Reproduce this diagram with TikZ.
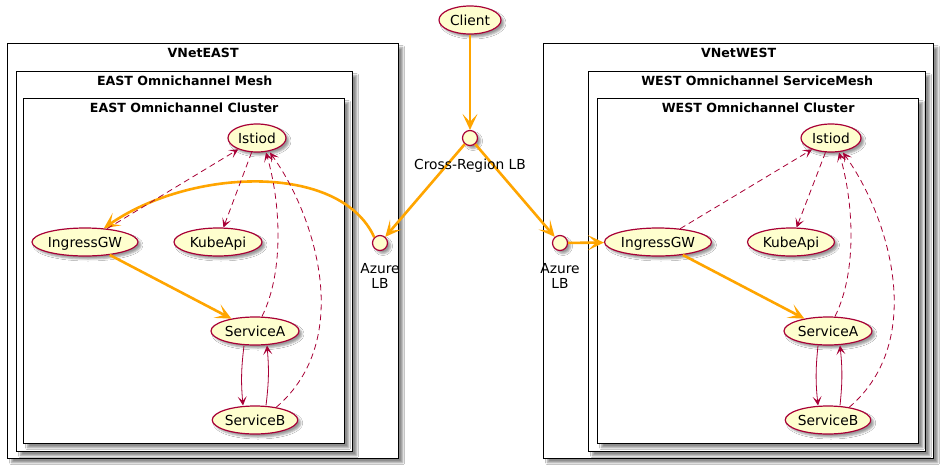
\documentclass[tikz,border=0pt]{standalone}
\usepackage{fontspec}
\setmainfont{DejaVu Sans}
\usetikzlibrary{shapes.geometric,arrows.meta,shadows,shadows.blur}
\definecolor{umlred}{HTML}{A80036}
\definecolor{umlfill}{HTML}{FEFECE}
\definecolor{umlorange}{HTML}{FFA500}
\tikzset{
  cbox/.style={rectangle, draw=black, fill=white, line width=1.3pt, inner sep=0pt, anchor=north west,
    blur shadow={shadow xshift=4pt, shadow yshift=-4pt, shadow blur radius=2pt, shadow blur steps=4, shadow opacity=45}},
  ttl/.style={font=\bfseries\fontsize{12.6pt}{15pt}\selectfont, text height=9.2pt, text depth=0pt, inner sep=0pt},
  uc/.style={ellipse, draw=umlred, fill=umlfill, line width=1.2pt, inner sep=0pt, minimum height=28pt,
    font=\fontsize{13.8pt}{15pt}\selectfont, text height=10pt, text depth=0pt,
    blur shadow={shadow xshift=3pt, shadow yshift=-3pt, shadow blur radius=2pt, shadow blur steps=4, shadow opacity=40}},
  lb/.style={circle, draw=umlred, fill=umlfill, line width=1.2pt, inner sep=0pt, minimum size=15pt,
    blur shadow={shadow xshift=3pt, shadow yshift=-3pt, shadow blur radius=2pt, shadow blur steps=4, shadow opacity=40}},
  lbl/.style={font=\fontsize{13.8pt}{15pt}\selectfont, inner sep=0pt, align=center},
  oarrow/.style={draw=umlorange, line width=2.6pt, -{Stealth[length=16pt,width=15pt,inset=8pt]}},
  darrow/.style={draw=umlred, line width=0.8pt, dash pattern=on 6pt off 4pt, -{Stealth[length=9pt,width=9pt,inset=4.5pt]}},
  rarrow/.style={draw=umlred, line width=0.8pt, -{Stealth[length=9pt,width=9pt,inset=4.5pt]}}
}
\begin{document}
\begin{tikzpicture}[x=1pt,y=-1pt]
\useasboundingbox[fill=white] (0,0) rectangle (944,469);
% boxes east
\node[cbox, minimum width=391pt, minimum height=415pt] (vnetE) at (7,43) {};
\node[ttl] (tvnetE) at ([yshift=-10pt]vnetE.north) {VNetEAST};
\node[cbox, minimum width=336pt, minimum height=380pt] (meshE) at (16,71) {};
\node[ttl] (tmeshE) at ([yshift=-10pt]meshE.north) {EAST Omnichannel Mesh};
\node[cbox, minimum width=321pt, minimum height=345pt] (clE) at (23,98) {};
\node[ttl] (tclE) at ([yshift=-10pt]clE.north) {EAST Omnichannel Cluster};
% boxes west
\node[cbox, minimum width=390pt, minimum height=415pt] (vnetW) at (543,43) {};
\node[ttl] (tvnetW) at ([yshift=-10pt]vnetW.north) {VNetWEST};
\node[cbox, minimum width=337pt, minimum height=380pt] (meshW) at (588,71) {};
\node[ttl] (tmeshW) at ([yshift=-10pt]meshW.north) {WEST Omnichannel ServiceMesh};
\node[cbox, minimum width=321pt, minimum height=345pt] (clW) at (597,98) {};
\node[ttl] (tclW) at ([yshift=-10pt]clW.north) {WEST Omnichannel Cluster};
% top
\node[uc, minimum width=62pt] (client) at (470,20) {Client};
\node[lb] (cross) at (470,138) {};
\node[lb] (eLB) at (380,243) {};
\node[lb] (wLB) at (560,243) {};
% east nodes
\node[uc, minimum width=58pt] (eIst) at (257,138) {Istiod};
\node[uc, minimum width=106pt] (eIng) at (85,242) {IngressGW};
\node[uc, minimum width=88pt] (eKube) at (218,242) {KubeApi};
\node[uc, minimum width=88pt] (eSA) at (255,331) {ServiceA};
\node[uc, minimum width=85pt] (eSB) at (255,420) {ServiceB};
% west nodes
\node[uc, minimum width=60pt] (wIst) at (831,138) {Istiod};
\node[uc, minimum width=107pt] (wIng) at (658,242) {IngressGW};
\node[uc, minimum width=87pt] (wKube) at (791,242) {KubeApi};
\node[uc, minimum width=88pt] (wSA) at (828,331) {ServiceA};
\node[uc, minimum width=85pt] (wSB) at (828,420) {ServiceB};
% orange edges
\draw[oarrow] (client) -- (cross);
\draw[oarrow] (cross) -- (eLB);
\draw[oarrow] (cross) -- (wLB);
\draw[oarrow] (eLB.135) .. controls (340,162) and (190,168) .. (eIng.36);
\draw[oarrow] (wLB) -- (wIng);
\draw[oarrow] (eIng) -- (eSA);
\draw[oarrow] (wIng) -- (wSA);
% east dashed
\draw[darrow] (eIng) -- (eIst);
\draw[darrow] (eIst) -- (eKube);
\draw[darrow] ([xshift=7pt]eSA.north) .. controls (285,270) and (280,200) .. ([xshift=9pt]eIst.south);
\draw[darrow] (eSB.31) .. controls (355,340) and (315,215) .. ([xshift=13pt]eIst.south);
\draw[rarrow] ([xshift=-11pt]eSA.south) to[bend right=6] ([xshift=-12pt]eSB.north);
\draw[rarrow] ([xshift=11pt]eSB.north) to[bend right=6] ([xshift=12pt]eSA.south);
% west dashed
\draw[darrow] (wIng) -- (wIst);
\draw[darrow] (wIst) -- (wKube);
\draw[darrow] ([xshift=7pt]wSA.north) .. controls (858,270) and (853,200) .. ([xshift=8pt]wIst.south);
\draw[darrow] (wSB.31) .. controls (928,340) and (888,215) .. ([xshift=12pt]wIst.south);
\draw[rarrow] ([xshift=-10pt]wSA.south) to[bend right=6] ([xshift=-10pt]wSB.north);
\draw[rarrow] ([xshift=12pt]wSB.north) to[bend right=6] ([xshift=12pt]wSA.south);
% labels
\node[lbl, anchor=base] (crossL) at (470,169) {Cross-Region LB};
\node[lbl] (eLBL) at (380,275.5) {Azure\\LB};
\node[lbl] (wLBL) at (560,275.5) {Azure\\LB};
\end{tikzpicture}
\end{document}
